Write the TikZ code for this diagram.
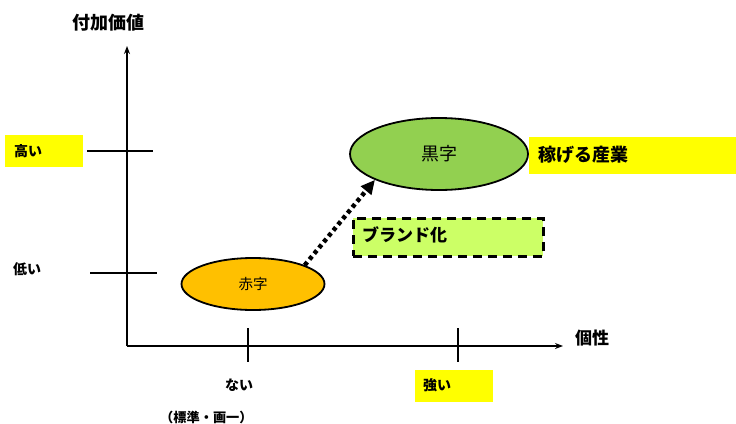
\documentclass[tikz,border=0pt]{standalone}
\usepackage{fontspec}
\newfontfamily\jp{Noto Sans CJK JP}
\usetikzlibrary{arrows.meta,shapes.geometric}
\definecolor{ylw}{HTML}{FFFF00}
\definecolor{org}{HTML}{FFC000}
\definecolor{grn}{HTML}{92D050}
\definecolor{lgrn}{HTML}{CCFF66}
\tikzset{
  lbl/.style={font=\jp\bfseries\fontsize{#1}{#1}\selectfont, inner sep=0pt},
  rlbl/.style={font=\jp\fontsize{#1}{#1}\selectfont, inner sep=0pt},
  ybox/.style={fill=ylw, draw=none},
  axis/.style={line width=1.6pt, -{Stealth[length=8pt,width=6pt]}},
  tick/.style={line width=1.6pt},
  ell/.style={ellipse, draw=black, line width=1.8pt, inner sep=0pt},
}
\begin{document}
\begin{tikzpicture}[x=1pt,y=-1pt]
\useasboundingbox (0,0) rectangle (736,423);
% axes
\coordinate (O) at (127,346);
\coordinate (Ytop) at (127,46);
\coordinate (Xend) at (563,346);
\draw[axis] (O) -- (Ytop);
\draw[axis] (O) -- (Xend);
% y ticks
\coordinate (yt1a) at (87,151); \coordinate (yt1b) at (153,151);
\coordinate (yt2a) at (90,273); \coordinate (yt2b) at (157,273);
\draw[tick] (yt1a) -- (yt1b);
\draw[tick] (yt2a) -- (yt2b);
% x ticks
\coordinate (xt1a) at (248,328); \coordinate (xt1b) at (248,362);
\coordinate (xt2a) at (458,328); \coordinate (xt2b) at (458,362);
\draw[tick] (xt1a) -- (xt1b);
\draw[tick] (xt2a) -- (xt2b);
% yellow boxes
\fill[ybox] (5,135) rectangle (83,167);
\fill[ybox] (529,137) rectangle (736,174);
\fill[ybox] (415,370) rectangle (493,402);
% labels
\node[lbl=18, anchor=west] (fuka) at (72,23) {付加価値};
\node[lbl=14, anchor=west] (takai) at (14,151) {高い};
\node[lbl=14, anchor=west] (hikui) at (13,269) {低い};
\node[lbl=17, anchor=west] (kosei) at (575,338) {個性};
\node[lbl=14, anchor=west] (nai) at (225,385) {ない};
\node[lbl=13.2, anchor=west] (hyoujun) at (160,417) {（標準・画一）};
\node[lbl=14, anchor=west] (tsuyoi) at (423,385) {強い};
\node[lbl=18, anchor=west] (kasegu) at (538,155) {稼げる産業};
% ellipses
\node[ell, fill=org, minimum width=143pt, minimum height=52pt, rlbl=14.5] (aka) at (253,284) {赤字};
\node[ell, fill=grn, minimum width=178pt, minimum height=72pt, rlbl=18] (kuro) at (439,154) {黒字};
% brand box
\node[draw=black, line width=2.6pt, dash pattern=on 9pt off 6pt, fill=lgrn,
      minimum width=190pt, minimum height=38pt, anchor=north west] (brand) at (352,217) {};
\node[lbl=17, anchor=west] (brandt) at (362,235) {ブランド化};
% dotted arrow
\draw[line width=4.5pt, dash pattern=on 4pt off 3.5pt, -{Triangle[length=14pt,width=13pt]}]
  (aka.20) -- (kuro.202);
\end{tikzpicture}
\end{document}
